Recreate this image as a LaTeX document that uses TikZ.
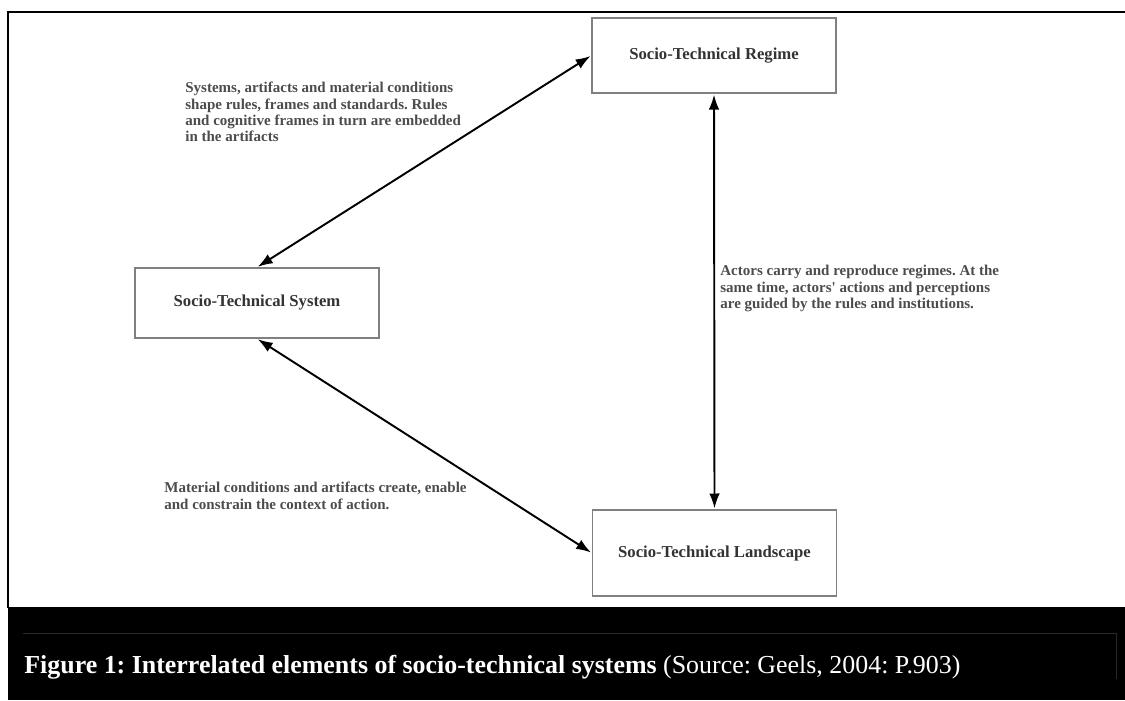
\documentclass[tikz,border=0pt]{standalone}
\usepackage{fontspec}
\setmainfont{Liberation Serif}
\usetikzlibrary{arrows.meta,positioning}
\frenchspacing

\begin{document}
\begin{tikzpicture}[x=0.02cm,y=-0.02cm,
  elem/.style={draw=cbox,fill=white,text=clbox,line width=0.8pt,shape=rectangle,
    minimum width=4.88cm,font=\bfseries\fontsize{9.5}{11}\selectfont},
  note/.style={anchor=north west,inner sep=0pt,align=left,text=cnote,
    font=\bfseries\fontsize{8.54}{9.3}\selectfont},
  link/.style={<->,>={Latex[length=8.5pt,width=6pt]},line width=1.1pt,color=carr,shorten <=0.5pt,shorten >=0.5pt}]
%
\useasboundingbox (0,0) rectangle (1125,700);
%
\definecolor{cframe}{rgb}{0.0,0.0,0.0}
\definecolor{cbox}{rgb}{0.5,0.5,0.5}
\definecolor{clbox}{rgb}{0.2,0.2,0.2}
\definecolor{cnote}{rgb}{0.3,0.3,0.3}
\definecolor{carr}{rgb}{0.0,0.0,0.0}
\definecolor{cband}{rgb}{0.0,0.0,0.0}
\definecolor{crule}{rgb}{0.16,0.16,0.16}
\definecolor{ccap}{rgb}{1.0,1.0,1.0}
%
\draw[cframe,line width=0.7pt] (8,608) -- (8,12) -- (1125,12);
\fill[cband] (8,607) rectangle (1125,700);
\draw[crule,line width=0.5pt] (23,633) -- (1116,633) -- (1116,679);
%
\node[elem,minimum height=1.5cm] (regime) at (714,55.5) {Socio-Technical Regime};
\node[elem,minimum height=1.4cm] (system) at (257,303) {Socio-Technical System};
\node[elem,minimum height=1.72cm] (landscape) at (714.5,553) {Socio-Technical Landscape};
%
\node[note] (noteSR) at (185,82) {Systems, artifacts and material conditions\\shape rules, frames and standards. Rules\\and cognitive frames in turn are embedded\\in the artifacts};
\node[note] (noteRL) at (720,265) {Actors carry and reproduce regimes. At the\\same time, actors\textquotesingle{} actions and perceptions\\are guided by the rules and institutions.};
\node[note] (noteSL) at (164,482) {Material conditions and artifacts create, enable\\and constrain the context of action.};
%
\draw[link] (system.north) -- (regime.west);
\draw[link] (system.south) -- (landscape.west);
\draw[link] (regime.south) -- (landscape.north);
%
\node[anchor=base west,inner sep=0pt,text=ccap,font=\fontsize{14.75}{17}\selectfont] (caption) at (24,673)
  {\textbf{Figure 1: Interrelated elements of socio-technical systems} (Source: Geels, 2004: P.903)};
%
\end{tikzpicture}
\end{document}
